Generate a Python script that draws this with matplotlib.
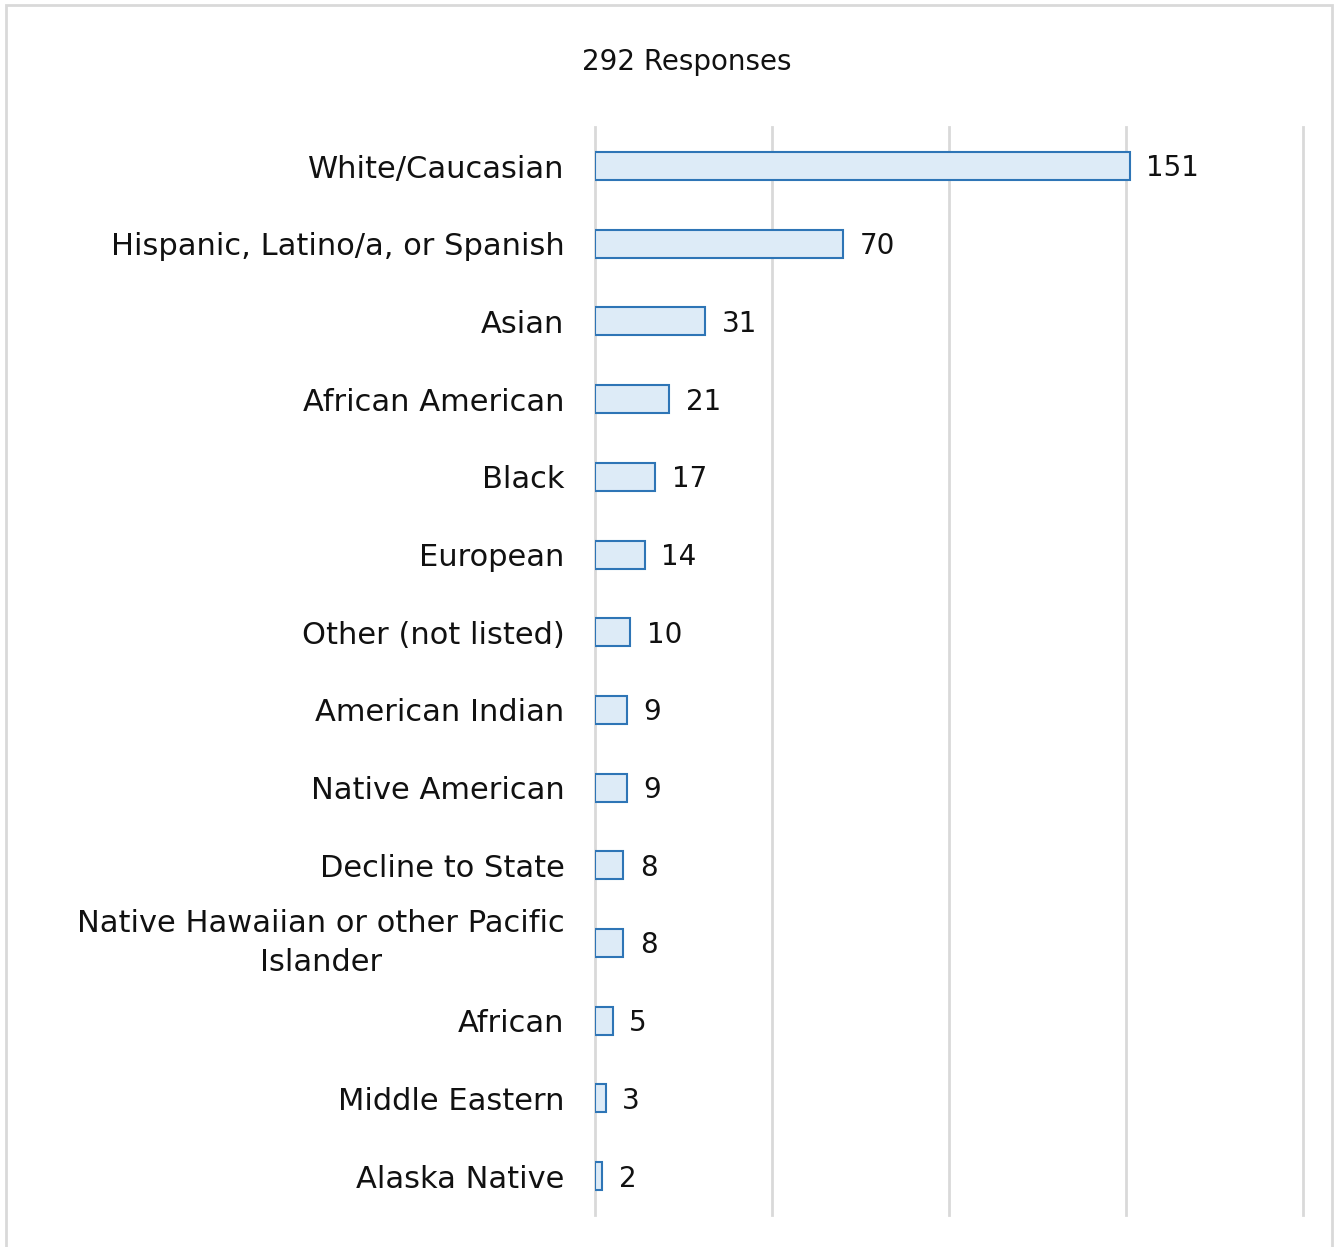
import matplotlib.pyplot as plt
from matplotlib.patches import Rectangle

# Data
categories = [
    "White/Caucasian", "Hispanic, Latino/a, or Spanish", "Asian",
    "African American", "Black", "European", "Other (not listed)",
    "American Indian", "Native American", "Decline to State",
    "Native Hawaiian or other Pacific\nIslander", "African",
    "Middle Eastern", "Alaska Native",
]
counts = [151, 70, 31, 21, 17, 14, 10, 9, 9, 8, 8, 5, 3, 2]
title = "292 Responses"

plt.rcParams['font.family'] = ['DejaVu Sans']

fig = plt.figure(figsize=(13.38, 12.47), dpi=100)
ax = fig.add_axes([0.4447, 0.0257, 0.5291, 0.8723])

y = list(range(len(categories)))
ax.barh(y, counts, height=0.36, color='#DDEBF7', edgecolor='#2E75B6', linewidth=1.5, zorder=3)
for i, v in enumerate(counts):
    ax.annotate(str(v), (v, i), xytext=(12, -7.5), textcoords='offset points',
                va='baseline', ha='left', fontsize=20, color='#111111')

ax.set_xlim(0, 200)
ax.set_ylim(len(categories) - 0.5, -0.5)
ax.set_xticks([0, 50, 100, 150, 200])
ax.set_xticklabels([])
ax.tick_params(axis='x', length=0)
ax.tick_params(axis='y', length=0, pad=22, labelsize=22, labelcolor='#111111')
ax.set_yticks(y)
ax.set_yticklabels(categories, multialignment='center', linespacing=1.45)
# two-line label: center the whole block on the bar
for lbl in ax.get_yticklabels():
    if "\n" in lbl.get_text():
        lbl.set_va('center')
ax.grid(axis='x', color='#D9D9D9', linewidth=2, zorder=0)
for gl in ax.get_xgridlines():
    gl.set_clip_on(False)
for s in ax.spines.values():
    s.set_visible(False)

fig.text(0.513, 0.95, title, ha='center', va='center', fontsize=20, color='#111111')

# outer border
fig.patches.append(Rectangle((6 / 1338, -0.01), 1326 / 1338, 1 - 5 / 1247 + 0.01,
                             transform=fig.transFigure, fill=False,
                             edgecolor='#D9D9D9', linewidth=2))

fig.savefig('out.png', dpi=100)
